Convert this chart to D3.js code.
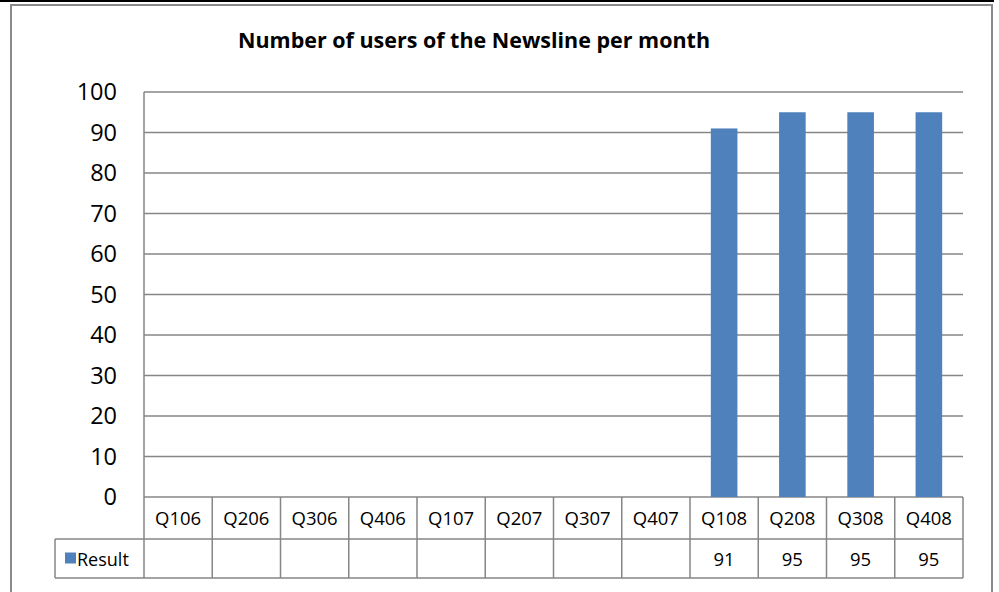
<!DOCTYPE html>
<html>
<head>
<meta charset="utf-8">
<script src="https://cdn.jsdelivr.net/npm/d3@7"></script>
<style>
  html, body { margin: 0; padding: 0; background: #fff; }
  svg { display: block; font-family: "Open Sans", sans-serif; }
</style>
</head>
<body>
<svg id="chart" width="999" height="592"></svg>
<script>
// Quarterly users of the Newsline
const categories = ["Q106", "Q206", "Q306", "Q406", "Q107", "Q207", "Q307", "Q407", "Q108", "Q208", "Q308", "Q408"];
const results = [null, null, null, null, null, null, null, null, 91, 95, 95, 95];
const yTicks = [0, 10, 20, 30, 40, 50, 60, 70, 80, 90, 100];
const seriesName = "Result";
const title = "Number of users of the Newsline per month";

const svg = d3.select("#chart");
const gridColor = "#868686";
const barColor = "#4F81BD";

const plot = { left: 144, right: 963, top: 92, bottom: 497 };
const table = { left: 55, row1: 539, row2: 578 };

// outer frame
svg.append("line").attr("x1", 0).attr("x2", 994).attr("y1", 1).attr("y2", 1)
  .attr("stroke", "#000").attr("stroke-width", 2);
svg.append("rect").attr("x", 11).attr("y", 5).attr("width", 981).attr("height", 600)
  .attr("fill", "none").attr("stroke", "#8a8a8a").attr("stroke-width", 2);

// title
svg.append("text").attr("x", 474).attr("y", 48).attr("text-anchor", "middle")
  .attr("font-weight", "bold").attr("font-size", 21).attr("fill", "#000")
  .attr("textLength", 472).attr("lengthAdjust", "spacingAndGlyphs")
  .text(title);

const x = d3.scaleBand().domain(categories).range([plot.left, plot.right]).paddingInner(0).paddingOuter(0);
const y = d3.scaleLinear().domain([0, 100]).range([plot.bottom, plot.top]);

// gridlines
svg.append("g").selectAll("line").data(yTicks).join("line")
  .attr("x1", plot.left).attr("x2", plot.right)
  .attr("y1", d => y(d)).attr("y2", d => y(d))
  .attr("stroke", gridColor).attr("stroke-width", 1.5);

// value axis labels
const yAxis = d3.axisLeft(y).tickValues(yTicks).tickSize(0).tickPadding(27);
const yg = svg.append("g").attr("transform", `translate(${plot.left},0)`).call(yAxis);
yg.select(".domain").remove();
yg.selectAll("text").attr("font-size", 23.5).attr("fill", "#000").attr("font-family", "'Open Sans', sans-serif");

// bars
const barW = x.bandwidth() * 0.39;
svg.append("g").selectAll("rect").data(categories.map((c, i) => ({ c, v: results[i] })).filter(d => d.v != null))
  .join("rect")
  .attr("x", d => x(d.c) + x.bandwidth() / 2 - barW / 2)
  .attr("width", barW)
  .attr("y", d => y(d.v))
  .attr("height", d => y(0) - y(d.v))
  .attr("fill", barColor);

// data table
const tg = svg.append("g").attr("stroke", gridColor).attr("stroke-width", 1.5);
// vertical axis line running down through the table
tg.append("line").attr("x1", plot.left).attr("x2", plot.left).attr("y1", plot.top).attr("y2", table.row2);
// column boundaries
tg.selectAll("line.col").data(categories).join("line").attr("class", "col")
  .attr("x1", d => x(d) + x.bandwidth()).attr("x2", d => x(d) + x.bandwidth())
  .attr("y1", plot.bottom).attr("y2", table.row2);
// row lines
tg.append("line").attr("x1", table.left).attr("x2", plot.right).attr("y1", table.row1).attr("y2", table.row1);
tg.append("line").attr("x1", table.left).attr("x2", plot.right).attr("y1", table.row2).attr("y2", table.row2);
tg.append("line").attr("x1", table.left).attr("x2", table.left).attr("y1", table.row1).attr("y2", table.row2);

// category labels
svg.append("g").selectAll("text").data(categories).join("text")
  .attr("x", d => x(d) + x.bandwidth() / 2).attr("y", (plot.bottom + table.row1) / 2 + 1)
  .attr("dy", "0.35em").attr("text-anchor", "middle").attr("font-size", 18.5).attr("fill", "#000")
  .text(d => d);

// value cells
svg.append("g").selectAll("text").data(categories.map((c, i) => ({ c, v: results[i] })).filter(d => d.v != null))
  .join("text")
  .attr("x", d => x(d.c) + x.bandwidth() / 2).attr("y", (table.row1 + table.row2) / 2 + 1)
  .attr("dy", "0.35em").attr("text-anchor", "middle").attr("font-size", 18.5).attr("fill", "#000")
  .text(d => d.v);

// legend key in the table
const rowMid = (table.row1 + table.row2) / 2;
svg.append("rect").attr("x", 65).attr("y", rowMid - 6).attr("width", 11).attr("height", 11).attr("fill", barColor);
svg.append("text").attr("x", 77).attr("y", rowMid + 1).attr("dy", "0.35em")
  .attr("font-size", 18).attr("fill", "#000").text(seriesName);
</script>
</body>
</html>
